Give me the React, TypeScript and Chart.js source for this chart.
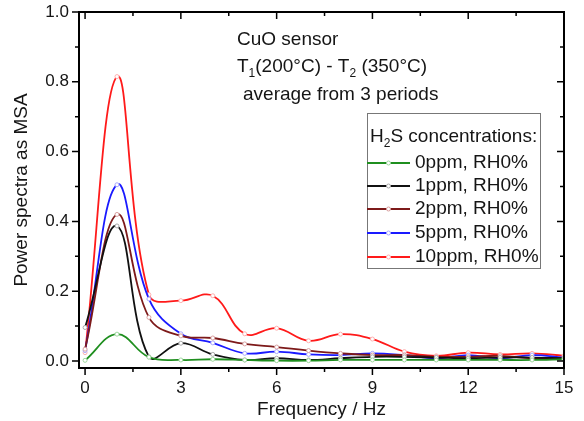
import React, { useEffect, useRef } from "react";
import { Chart, registerables } from "chart.js";

Chart.register(...registerables);

const freq = [0, 1, 2, 3, 4, 5, 6, 7, 8, 9, 10, 11, 12, 13, 14, 15];
const ppm0 = [0.002, 0.077, 0.011, 0.003, 0.005, 0.003, 0.001, 0.001, 0.003, 0.003, 0.003, 0.003, 0.003, 0.003, 0.003, 0.005];
const ppm1 = [0.096, 0.387, 0.012, 0.051, 0.019, 0.003, 0.008, 0.003, 0.008, 0.012, 0.012, 0.01, 0.008, 0.01, 0.01, 0.008];
const ppm2 = [0.034, 0.42, 0.125, 0.072, 0.066, 0.049, 0.04, 0.03, 0.022, 0.017, 0.017, 0.012, 0.012, 0.015, 0.008, 0.008];
const ppm5 = [0.03, 0.505, 0.178, 0.078, 0.052, 0.022, 0.027, 0.019, 0.017, 0.022, 0.017, 0.008, 0.017, 0.008, 0.017, 0.01];
const ppm10 = [0.024, 0.815, 0.19, 0.173, 0.187, 0.078, 0.094, 0.058, 0.077, 0.063, 0.027, 0.015, 0.024, 0.019, 0.022, 0.015];

const seriesLabels = ["0ppm, RH0%", "1ppm, RH0%", "2ppm, RH0%", "5ppm, RH0%", "10ppm, RH0%"];
const seriesColors = ["#1f8f1f", "#111111", "#7d1a1a", "#1a1aff", "#ff1a1a"];
const markerColors = ["#9fd89f", "#aaaaaa", "#d9a0a0", "#a8a8ff", "#ffb0b0"];

const xMajorTicks = [0, 3, 6, 9, 12, 15];
const xMinorTicks = [1.5, 4.5, 7.5, 10.5, 13.5];
const yMajorTicks = [0, 0.2, 0.4, 0.6, 0.8, 1.0];
const yMinorTicks = [0.1, 0.3, 0.5, 0.7, 0.9];

const FONT = "'Liberation Sans', Arial, sans-serif";
const TXT = "#151515";

type Part = [string, "n" | "sub"];

function drawRich(ctx: CanvasRenderingContext2D, x: number, y: number, parts: Part[], size: number) {
  let cx = x;
  ctx.textAlign = "left";
  ctx.textBaseline = "middle";
  for (const [t, kind] of parts) {
    if (kind === "sub") {
      ctx.font = `${Math.round(size * 0.62)}px ${FONT}`;
      ctx.fillText(t, cx, y + size * 0.33);
    } else {
      ctx.font = `${size}px ${FONT}`;
      ctx.fillText(t, cx, y);
    }
    cx += ctx.measureText(t).width;
  }
}

const framePlugin = {
  id: "framePlugin",
  afterDraw(chart: any) {
    const ctx: CanvasRenderingContext2D = chart.ctx;
    const xs = chart.scales.x;
    const ys = chart.scales.y;
    const { left, right, top, bottom } = chart.chartArea;
    ctx.save();
    ctx.strokeStyle = "#000";
    ctx.lineWidth = 2;
    ctx.strokeRect(left, top, right - left, bottom - top);

    ctx.lineWidth = 1.5;
    ctx.beginPath();
    const xt = (v: number, len: number) => {
      const px = xs.getPixelForValue(v);
      ctx.moveTo(px, bottom);
      ctx.lineTo(px, bottom + len);
      ctx.moveTo(px, top);
      ctx.lineTo(px, top + len);
    };
    xMajorTicks.forEach((v) => xt(v, 7));
    xMinorTicks.forEach((v) => xt(v, 4));
    const yt = (v: number, len: number) => {
      const py = ys.getPixelForValue(v);
      ctx.moveTo(left, py);
      ctx.lineTo(left - len, py);
      ctx.moveTo(right, py);
      ctx.lineTo(right - len, py);
    };
    yMajorTicks.forEach((v) => yt(v, 7));
    yMinorTicks.forEach((v) => yt(v, 4));
    ctx.stroke();

    // tick labels
    ctx.fillStyle = TXT;
    ctx.font = `17px ${FONT}`;
    ctx.textAlign = "center";
    ctx.textBaseline = "middle";
    xMajorTicks.forEach((v) => ctx.fillText(String(v), xs.getPixelForValue(v), bottom + 20));
    ctx.textAlign = "right";
    yMajorTicks.forEach((v) => ctx.fillText(v.toFixed(1), left - 10, ys.getPixelForValue(v)));

    // axis titles
    ctx.font = `19px ${FONT}`;
    ctx.textAlign = "center";
    ctx.fillText("Frequency / Hz", (left + right) / 2, bottom + 42);
    ctx.save();
    ctx.translate(22, (top + bottom) / 2);
    ctx.rotate(-Math.PI / 2);
    ctx.fillText("Power spectra as MSA", 0, 0);
    ctx.restore();

    // annotations
    drawRich(ctx, 237, 40, [["CuO sensor", "n"]], 19);
    drawRich(ctx, 237, 67, [["T", "n"], ["1", "sub"], ["(200°C) - T", "n"], ["2", "sub"], [" (350°C)", "n"]], 19);
    drawRich(ctx, 243, 95, [["average from 3 periods", "n"]], 19);

    // legend
    const bx = 367, by = 113, bw = 173, bh = 155;
    ctx.fillStyle = "#fff";
    ctx.fillRect(bx, by, bw, bh);
    ctx.strokeStyle = "#777";
    ctx.lineWidth = 1;
    ctx.strokeRect(bx + 0.5, by + 0.5, bw, bh);
    ctx.fillStyle = TXT;
    drawRich(ctx, bx + 3, 137, [["H", "n"], ["2", "sub"], ["S concentrations:", "n"]], 19);
    const rows = [163, 186, 209, 233, 257];
    seriesLabels.forEach((lab, i) => {
      const y = rows[i];
      ctx.strokeStyle = seriesColors[i];
      ctx.lineWidth = 2;
      ctx.beginPath();
      ctx.moveTo(bx, y);
      ctx.lineTo(bx + 43, y);
      ctx.stroke();
      ctx.beginPath();
      ctx.arc(bx + 21.5, y, 2, 0, Math.PI * 2);
      ctx.fillStyle = "#fff";
      ctx.fill();
      ctx.strokeStyle = markerColors[i];
      ctx.lineWidth = 1;
      ctx.stroke();
      ctx.fillStyle = TXT;
      drawRich(ctx, bx + 48, y, [[lab, "n"]], 19);
    });
    ctx.restore();
  },
};

export default function App() {
  const ref = useRef<HTMLCanvasElement>(null);
  useEffect(() => {
    document.body.style.margin = "0";
    const seriesData = [ppm0, ppm1, ppm2, ppm5, ppm10];
    const chart = new Chart(ref.current!, {
      type: "line",
      data: {
        datasets: seriesData.map((arr, i) => ({
          label: seriesLabels[i],
          data: arr.map((v, j) => ({ x: freq[j], y: v })),
          borderColor: seriesColors[i],
          backgroundColor: seriesColors[i],
          borderWidth: 1.8,
          tension: 0.4,
          pointRadius: 2,
          pointBorderWidth: 1,
          pointBackgroundColor: "#fff",
          pointBorderColor: markerColors[i],
          fill: false,
        })),
      },
      options: {
        responsive: false,
        animation: false,
        devicePixelRatio: 1,
        layout: { padding: { left: 79, right: 20, top: 12, bottom: 53 } },
        plugins: { legend: { display: false }, tooltip: { enabled: false }, title: { display: false } },
        scales: {
          x: { type: "linear", min: -0.19, max: 15, display: false },
          y: { type: "linear", min: -0.02, max: 1.0, display: false },
        },
      },
      plugins: [framePlugin],
    });
    return () => chart.destroy();
  }, []);
  return (
    <div style={{ position: "absolute", left: 0, top: 0, width: 584, height: 421, background: "#fff" }}>
      <canvas ref={ref} width={584} height={421} />
    </div>
  );
}
